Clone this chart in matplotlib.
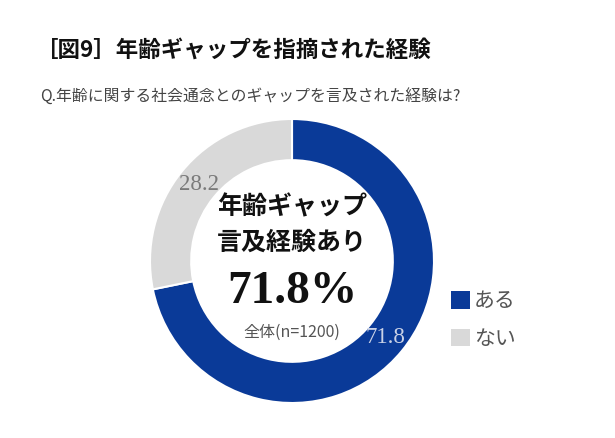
import matplotlib
matplotlib.use("Agg")
import matplotlib.pyplot as plt
from matplotlib.patches import Patch

# data
categories = ["ある", "ない"]
values = [71.8, 28.2]
colors = ["#0a3a98", "#d9d9d9"]
label_colors = ["#c9d1e6", "#7a7a7a"]

title = "［図9］年齢ギャップを指摘された経験"
subtitle = "Q.年齢に関する社会通念とのギャップを言及された経験は?"
center_lines = ["年齢ギャップ", "言及経験あり"]
center_value = "71.8%"
center_note = "全体(n=1200)"

plt.rcParams['font.family'] = ['Noto Sans CJK JP', 'DejaVu Sans']

fig = plt.figure(figsize=(6.15, 4.38), dpi=100)
fig.patch.set_facecolor("white")

# title and question
fig.text(36 / 615, 1 - 50 / 438, title, fontsize=16.2, fontweight="bold",
         color="#111111", ha="left", va="center")
fig.text(40 / 615, 1 - 97 / 438, subtitle, fontsize=11.4,
         color="#444444", ha="left", va="center")

# donut axes, centre at (292, 261) px, radius 142 px
ax = fig.add_axes([(292 - 142) / 615, (438 - 261 - 142) / 438,
                   284 / 615, 284 / 438])
wedges, texts, autotexts = ax.pie(
    values, colors=colors, startangle=90, counterclock=False,
    radius=1.0, autopct="%.1f", pctdistance=0.85,
    wedgeprops=dict(width=0.29, edgecolor="white", linewidth=1.5),
    textprops=dict(fontsize=16.5, family="Liberation Serif"))
for t, c in zip(autotexts, label_colors):
    t.set_color(c)
ax.set_xlim(-1, 1)
ax.set_ylim(-1, 1)
ax.set_aspect("equal")

# text in the hole
ax.text(0, 0.38, center_lines[0], fontsize=18, fontweight="bold",
        ha="center", va="center", color="#111111")
ax.text(0, 0.13, center_lines[1], fontsize=18, fontweight="bold",
        ha="center", va="center", color="#111111")
ax.text(0, -0.22, center_value, fontsize=34, fontweight="bold",
        family="Liberation Serif", ha="center", va="center", color="#111111")
ax.text(0, -0.50, center_note, fontsize=11.5, ha="center", va="center",
        color="#555555")

# legend
handles = [Patch(facecolor=c, edgecolor="none") for c in colors]
fig.legend(handles, categories, loc="center left",
           bbox_to_anchor=(432 / 615, 1 - 320 / 438), frameon=False,
           fontsize=15, labelcolor="#555555", handlelength=0.9,
           handleheight=0.9, handletextpad=0.2, labelspacing=0.75)

fig.savefig("out.png", dpi=100, facecolor="white")
